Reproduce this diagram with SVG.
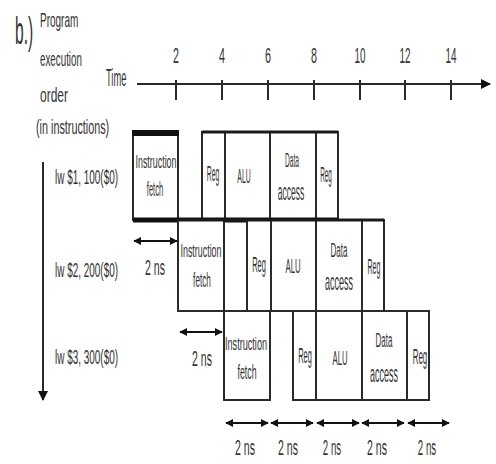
<svg xmlns="http://www.w3.org/2000/svg" width="496" height="464" viewBox="0 0 496 464">
<style>
text{font-family:"Liberation Sans",Arial,sans-serif;fill:#333}
.c{text-anchor:middle}
.ins{font-size:19px}
.fe{font-size:20px}
.rg{font-size:22px}
.al{font-size:21px}
.da{font-size:20px}
.ac{font-size:23px}
.ns{font-size:22px;text-anchor:middle}
.box{fill:#fff;stroke:#2a2a2a;stroke-width:2}
.ln{stroke:#2a2a2a;stroke-width:2;fill:none}
.dim{stroke:#111;stroke-width:2;fill:none;marker-start:url(#ah);marker-end:url(#ah)}
</style>
<defs>
<marker id="ah" viewBox="0 0 10 10" refX="9" refY="5" markerWidth="4" markerHeight="4" orient="auto-start-reverse" markerUnits="strokeWidth">
<path d="M0,0 L10,5 L0,10 z" fill="#111"/>
</marker>
<marker id="ax" viewBox="0 0 10 10" refX="9" refY="5" markerWidth="5" markerHeight="5" orient="auto" markerUnits="strokeWidth">
<path d="M0,0 L10,5 L0,10 z" fill="#111"/>
</marker>
</defs>
<rect width="496" height="464" fill="#fff"/>

<g id="title">
<text transform="translate(15,44) scale(0.41,1)" font-size="38">b.)</text>
<text transform="translate(40,27) scale(0.5,1)" font-size="20">Program</text>
<text transform="translate(40,66) scale(0.49,1)" font-size="20">execution</text>
<text transform="translate(40,102) scale(0.6,1)" font-size="20">order</text>
<text transform="translate(36,134) scale(0.54,1)" font-size="20">(in instructions)</text>
</g>

<g id="time-axis">
<text transform="translate(106,86) scale(0.39,1)" font-size="24">Time</text>
<line class="ln" x1="137" y1="84" x2="490" y2="84" marker-end="url(#ax)"/>
<g class="ln">
<line x1="176" y1="80" x2="176" y2="100"/>
<line x1="222" y1="80" x2="222" y2="100"/>
<line x1="268" y1="80" x2="268" y2="100"/>
<line x1="314" y1="80" x2="314" y2="100"/>
<line x1="360" y1="80" x2="360" y2="100"/>
<line x1="405" y1="80" x2="405" y2="100"/>
<line x1="451" y1="80" x2="451" y2="100"/>
</g>
<g font-size="22">
<text class="c" transform="translate(176,63) scale(0.49,1)">2</text>
<text class="c" transform="translate(222,63) scale(0.49,1)">4</text>
<text class="c" transform="translate(268,63) scale(0.49,1)">6</text>
<text class="c" transform="translate(314,63) scale(0.49,1)">8</text>
<text class="c" transform="translate(360,63) scale(0.45,1)">10</text>
<text class="c" transform="translate(405,63) scale(0.45,1)">12</text>
<text class="c" transform="translate(451,63) scale(0.45,1)">14</text>
</g>
</g>

<g id="order-axis">
<line class="ln" x1="43" y1="162" x2="43" y2="400" marker-end="url(#ax)"/>
</g>

<g id="instr-labels" font-size="21">
<text transform="translate(55,184) scale(0.474,1)">lw $1, 100($0)</text>
<text transform="translate(55,277) scale(0.474,1)">lw $2, 200($0)</text>
<text transform="translate(55,364) scale(0.474,1)">lw $3, 300($0)</text>
</g>

<g id="r1-if">
<rect class="box" x="133" y="132" width="45" height="88"/>
<rect x="132" y="130" width="47" height="6" fill="#111"/>
<text class="c ins" transform="translate(156,168) scale(0.468,1)">Instruction</text>
<text class="c fe" transform="translate(155,196) scale(0.38,1)">fetch</text>
</g>
<g id="r1-reg1">
<rect class="box" x="202" y="132" width="23" height="88"/>
<text class="c rg" transform="translate(213,181) scale(0.31,1)">Reg</text>
</g>
<g id="r1-alu">
<rect class="box" x="225" y="132" width="45" height="88"/>
<text class="c al" transform="translate(244,183) scale(0.33,1)">ALU</text>
</g>
<g id="r1-dm">
<rect class="box" x="270" y="132" width="46" height="88"/>
<text class="c da" transform="translate(292,167) scale(0.33,1)">Data</text>
<text class="c ac" transform="translate(291,200) scale(0.37,1)">access</text>
</g>
<g id="r1-reg2">
<rect class="box" x="316" y="132" width="22" height="88"/>
<text class="c rg" transform="translate(326,182) scale(0.29,1)">Reg</text>
</g>
<line x1="202" y1="132" x2="338" y2="132" stroke="#1a1a1a" stroke-width="3"/>
<line x1="133" y1="220" x2="338" y2="220" stroke="#111" stroke-width="5"/>

<g id="r2-if">
<rect class="box" x="178" y="220" width="46" height="91"/>
<text class="c ins" transform="translate(201,257) scale(0.468,1)">Instruction</text>
<text class="c fe" transform="translate(202,287) scale(0.41,1)">fetch</text>
</g>
<g id="r2-reg1">
<rect class="box" x="247" y="220" width="24" height="91"/>
<text class="c rg" transform="translate(259,272) scale(0.34,1)">Reg</text>
</g>
<g id="r2-alu">
<rect class="box" x="271" y="220" width="45" height="91"/>
<text class="c al" transform="translate(293,273) scale(0.37,1)">ALU</text>
</g>
<g id="r2-dm">
<rect class="box" x="316" y="220" width="46" height="91"/>
<text class="c da" transform="translate(339,257) scale(0.4,1)">Data</text>
<text class="c ac" transform="translate(339,290) scale(0.39,1)">access</text>
</g>
<g id="r2-reg2">
<rect class="box" x="362" y="220" width="22" height="91"/>
<text class="c rg" transform="translate(374,274) scale(0.32,1)">Reg</text>
</g>
<line x1="178" y1="220" x2="384" y2="220" stroke="#1a1a1a" stroke-width="3"/>

<g id="r3-if">
<rect class="box" x="224" y="311" width="46" height="89"/>
<text class="c ins" transform="translate(246,350) scale(0.48,1)">Instruction</text>
<text class="c fe" transform="translate(247,379) scale(0.44,1)">fetch</text>
</g>
<g id="r3-reg1">
<rect class="box" x="293" y="311" width="23" height="89"/>
<text class="c rg" transform="translate(305,363) scale(0.34,1)">Reg</text>
</g>
<g id="r3-alu">
<rect class="box" x="316" y="311" width="46" height="89"/>
<text class="c al" transform="translate(340,365) scale(0.37,1)">ALU</text>
</g>
<g id="r3-dm">
<rect class="box" x="362" y="311" width="45" height="89"/>
<text class="c da" transform="translate(384,347) scale(0.4,1)">Data</text>
<text class="c ac" transform="translate(384,382) scale(0.39,1)">access</text>
</g>
<g id="r3-reg2">
<rect class="box" x="407" y="311" width="22" height="89"/>
<text class="c rg" transform="translate(420,364) scale(0.36,1)">Reg</text>
</g>

<g id="connectors">
<line class="dim" x1="134" y1="241" x2="177" y2="241"/>
<line class="dim" x1="180" y1="332" x2="222" y2="332"/>
<line class="dim" x1="226" y1="423" x2="268" y2="423"/>
<line class="dim" x1="271" y1="423" x2="313" y2="423"/>
<line class="dim" x1="317" y1="423" x2="359" y2="423"/>
<line class="dim" x1="362" y1="423" x2="404" y2="423"/>
<line class="dim" x1="408" y1="423" x2="449" y2="423"/>
</g>
<g id="dim-labels">
<text class="ns" transform="translate(155,275) scale(0.48,1)">2 ns</text>
<text class="ns" transform="translate(202,366) scale(0.48,1)">2 ns</text>
<text class="ns" transform="translate(245,455) scale(0.48,1)">2 ns</text>
<text class="ns" transform="translate(288,455) scale(0.48,1)">2 ns</text>
<text class="ns" transform="translate(332,455) scale(0.44,1)">2 ns</text>
<text class="ns" transform="translate(377,455) scale(0.48,1)">2 ns</text>
<text class="ns" transform="translate(427,455) scale(0.44,1)">2 ns</text>
</g>
</svg>
